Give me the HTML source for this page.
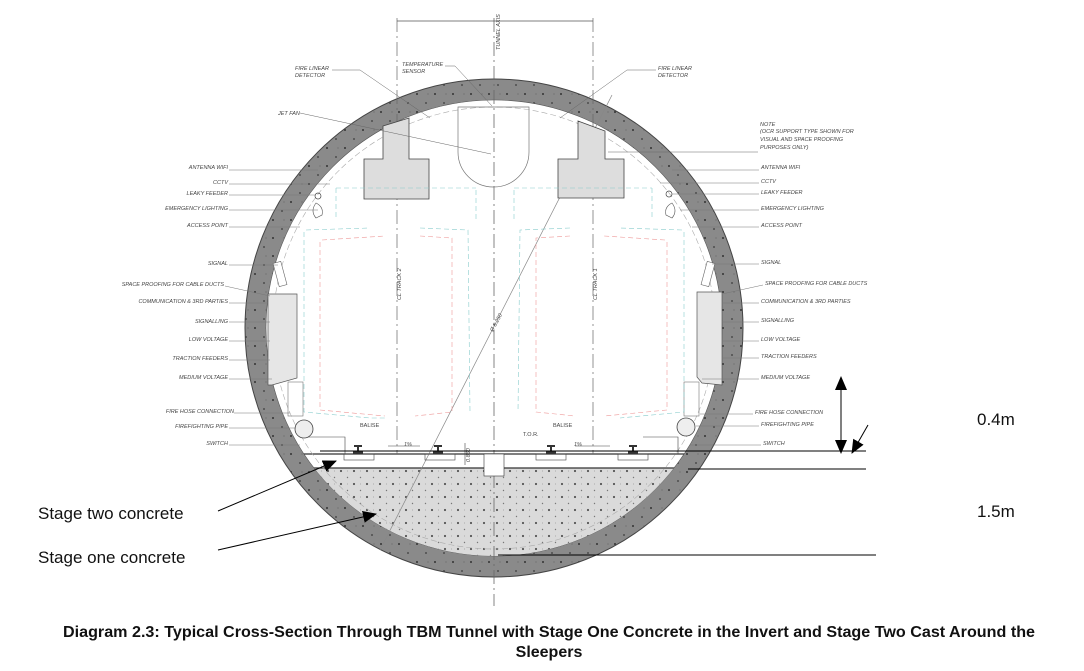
<!DOCTYPE html>
<html><head><meta charset="utf-8"><style>
html,body{margin:0;padding:0;background:#fff;}
svg{display:block;}
.l{font-family:"Liberation Sans",sans-serif;font-size:5.5px;font-style:italic;fill:#444;}
</style></head><body>
<svg width="1084" height="671" viewBox="0 0 1084 671" xmlns="http://www.w3.org/2000/svg">
<defs>
<pattern id="dots" width="18" height="18" patternUnits="userSpaceOnUse">
<circle cx="3" cy="4" r="1" fill="#333"/><circle cx="12" cy="13" r="0.9" fill="#3a3a3a"/><circle cx="14" cy="4" r="0.5" fill="#555"/>
</pattern>
<pattern id="dots2" width="13" height="13" patternUnits="userSpaceOnUse">
<circle cx="3" cy="3" r="1.1" fill="#555"/><circle cx="9.5" cy="9.5" r="0.7" fill="#777"/><circle cx="9.5" cy="3" r="0.5" fill="#999"/>
</pattern>
<clipPath id="inner"><circle cx="494" cy="328" r="228"/></clipPath>
<marker id="ah2" markerWidth="14" markerHeight="12" refX="13" refY="6" orient="auto" markerUnits="userSpaceOnUse"><path d="M0,0 L14,6 L0,12z" fill="#000"/></marker>
</defs>
<path d="M494,79 a249,249 0 1,0 0.1,0 z M494,100 a228,228 0 1,1 -0.1,0 z" fill="#8a8a8a" fill-rule="evenodd"/>
<path d="M494,79 a249,249 0 1,0 0.1,0 z M494,100 a228,228 0 1,1 -0.1,0 z" fill="url(#dots)" fill-rule="evenodd"/>
<circle cx="494" cy="328" r="249" fill="none" stroke="#444" stroke-width="1"/>
<circle cx="494" cy="328" r="228" fill="none" stroke="#555" stroke-width="0.6"/>
<g clip-path="url(#inner)">
<rect x="240" y="468" width="520" height="120" fill="#dadada"/>
<rect x="240" y="468" width="520" height="120" fill="url(#dots2)"/>
<line x1="260" y1="454" x2="730" y2="454" stroke="#333" stroke-width="1.3"/>
<line x1="260" y1="468" x2="730" y2="468" stroke="#333" stroke-width="1.3"/>
<circle cx="494" cy="328" r="221" fill="none" stroke="#aaa" stroke-width="0.6" stroke-dasharray="6 3"/>
</g>
<line x1="494" y1="18" x2="494" y2="606" stroke="#666" stroke-width="0.8" stroke-dasharray="14 4 2 4"/>
<line x1="397" y1="18" x2="397" y2="454" stroke="#666" stroke-width="0.7" stroke-dasharray="14 4 2 4"/>
<line x1="593" y1="18" x2="593" y2="454" stroke="#666" stroke-width="0.7" stroke-dasharray="14 4 2 4"/>
<line x1="397" y1="21" x2="593" y2="21" stroke="#555" stroke-width="0.7"/>
<text x="500" y="50" class="l" transform="rotate(-90 500 50)">TUNNEL AXIS</text>
<line x1="380" y1="550" x2="612" y2="95" stroke="#888" stroke-width="0.7"/>
<text x="493" y="332" class="l" transform="rotate(-62 493 332)">Ø 8.250</text>
<path d="M383,126 L409,118 L409,159 L429,159 L429,199 L364,199 L364,159 L383,159Z" fill="#ddd" stroke="#444" stroke-width="0.8"/>
<path d="M578,121 L605,131 L605,159 L624,159 L624,198 L558,198 L558,159 L578,159Z" fill="#ddd" stroke="#444" stroke-width="0.8"/>
<path d="M458,107 L529,107 L529,152 A35.5,35 0 0,1 458,152 Z" fill="none" stroke="#777" stroke-width="0.7"/>
<path d="M268,294 L297,294 L297,378 L272,385 L268,385Z" fill="#e6e6e6" stroke="#555" stroke-width="0.7"/>
<path d="M697,292 L722,292 L722,385 L702,383 L697,377Z" fill="#e6e6e6" stroke="#555" stroke-width="0.7"/>
<rect x="288" y="382" width="15" height="34" fill="none" stroke="#777" stroke-width="0.6"/>
<rect x="684" y="382" width="15" height="34" fill="none" stroke="#777" stroke-width="0.6"/>
<rect x="276" y="262" width="8" height="24" fill="#fff" stroke="#666" stroke-width="0.6" transform="rotate(-15 280 274)"/>
<rect x="704" y="262" width="8" height="24" fill="#fff" stroke="#666" stroke-width="0.6" transform="rotate(15 708 274)"/>
<circle cx="304" cy="429" r="9" fill="#eee" stroke="#444" stroke-width="0.8"/>
<circle cx="686" cy="427" r="9" fill="#eee" stroke="#444" stroke-width="0.8"/>
<circle cx="318" cy="196" r="3" fill="none" stroke="#444" stroke-width="0.7"/>
<circle cx="669" cy="194" r="3" fill="none" stroke="#444" stroke-width="0.7"/>
<path d="M316,203 q8,4 6,12 l-6,3 q-6,-7 0,-15z" fill="none" stroke="#555" stroke-width="0.6"/>
<path d="M672,203 q-8,4 -6,12 l6,3 q6,-7 0,-15z" fill="none" stroke="#555" stroke-width="0.6"/>
<g fill="none" stroke-width="0.6">
<path d="M304,232 L304,412 L370,418 L385,418 M306,230 L370,228 M420,228 L468,230 L470,412" stroke="#8cc" stroke-dasharray="5 3"/>
<path d="M320,242 L320,410 L385,416 M322,240 L385,236 M420,236 L452,238 L452,412 L415,416" stroke="#e99" stroke-dasharray="5 3"/>
<path d="M684,232 L684,412 L620,418 M682,230 L620,228 M570,228 L520,230 L518,412" stroke="#8cc" stroke-dasharray="5 3"/>
<path d="M667,242 L667,410 L604,416 M665,240 L604,236 M570,236 L536,238 L536,412 L575,416" stroke="#e99" stroke-dasharray="5 3"/>
<path d="M336,188 L336,220 M476,190 L476,220 M514,190 L514,220 M652,188 L652,220 M336,188 L476,188 M514,188 L652,188" stroke="#8cc" stroke-dasharray="5 3"/>
</g>
<text x="401" y="300" class="l" transform="rotate(-90 401 300)">CL TRACK 2</text>
<text x="597" y="300" class="l" transform="rotate(-90 597 300)">CL TRACK 1</text>
<g stroke="#444" stroke-width="0.6" fill="none">
<rect x="484" y="454" width="20" height="22" fill="#fff" stroke="#333"/>
<rect x="344" y="454" width="30" height="6"/><rect x="425" y="454" width="30" height="6"/>
<rect x="536" y="454" width="30" height="6"/><rect x="618" y="454" width="30" height="6"/>
<path d="M308,437 L345,437 L345,454 M643,437 L678,437 L678,454 M388,446 L420,446 M575,446 L610,446"/>
<line x1="465" y1="443" x2="465" y2="465"/>
</g>
<g fill="#333"><path d="M354,445 h8 v2 h-3 v4 h4 v3 h-10 v-3 h4 v-4 h-3z"/><path d="M434,445 h8 v2 h-3 v4 h4 v3 h-10 v-3 h4 v-4 h-3z"/><path d="M547,445 h8 v2 h-3 v4 h4 v3 h-10 v-3 h4 v-4 h-3z"/><path d="M629,445 h8 v2 h-3 v4 h4 v3 h-10 v-3 h4 v-4 h-3z"/></g>
<text x="360" y="427" class="l" style="font-style:normal">BALISE</text>
<text x="553" y="427" class="l" style="font-style:normal">BALISE</text>
<text x="523" y="436" class="l" style="font-style:normal">T.O.R.</text>
<text x="404" y="446" class="l">1%</text><text x="574" y="446" class="l">1%</text>
<text x="470" y="462" class="l" transform="rotate(-90 470 462)">0.860</text>
<text x="295" y="70" class="l">FIRE LINEAR</text><text x="295" y="77" class="l">DETECTOR</text>
<text x="402" y="66" class="l">TEMPERATURE</text><text x="402" y="73" class="l">SENSOR</text>
<text x="658" y="70" class="l">FIRE LINEAR</text><text x="658" y="77" class="l">DETECTOR</text>
<text x="278" y="115" class="l">JET FAN</text>
<text x="760" y="126" class="l">NOTE</text>
<text x="760" y="133" class="l">(OCR SUPPORT TYPE SHOWN FOR</text>
<text x="760" y="141" class="l">VISUAL AND SPACE PROOFING</text>
<text x="760" y="149" class="l">PURPOSES ONLY)</text>
<g stroke="#666" stroke-width="0.5" fill="none">
<path d="M332,70 L360,70 L430,118"/><path d="M445,66 L455,66 L492,106"/>
<path d="M656,70 L627,70 L560,118"/><path d="M300,113 L491,154"/><path d="M758,152 L608,152"/>
</g>
<g class="l" text-anchor="end">
<text x="228" y="169">ANTENNA WIFI</text><text x="228" y="184">CCTV</text><text x="228" y="195">LEAKY FEEDER</text>
<text x="228" y="210">EMERGENCY LIGHTING</text><text x="228" y="227">ACCESS POINT</text><text x="228" y="265">SIGNAL</text>
<text x="224" y="286">SPACE PROOFING FOR CABLE DUCTS</text><text x="228" y="303">COMMUNICATION &amp; 3RD PARTIES</text>
<text x="228" y="323">SIGNALLING</text><text x="228" y="341">LOW VOLTAGE</text><text x="228" y="360">TRACTION FEEDERS</text>
<text x="228" y="379">MEDIUM VOLTAGE</text><text x="234" y="413">FIRE HOSE CONNECTION</text>
<text x="228" y="428">FIREFIGHTING PIPE</text><text x="228" y="445">SWITCH</text>
</g>
<g class="l">
<text x="761" y="169">ANTENNA WIFI</text><text x="761" y="183">CCTV</text><text x="761" y="194">LEAKY FEEDER</text>
<text x="761" y="210">EMERGENCY LIGHTING</text><text x="761" y="227">ACCESS POINT</text><text x="761" y="264">SIGNAL</text>
<text x="765" y="285">SPACE PROOFING FOR CABLE DUCTS</text><text x="761" y="303">COMMUNICATION &amp; 3RD PARTIES</text>
<text x="761" y="322">SIGNALLING</text><text x="761" y="341">LOW VOLTAGE</text><text x="761" y="358">TRACTION FEEDERS</text>
<text x="761" y="379">MEDIUM VOLTAGE</text><text x="755" y="414">FIRE HOSE CONNECTION</text>
<text x="761" y="426">FIREFIGHTING PIPE</text><text x="763" y="445">SWITCH</text>
</g>
<g stroke="#777" stroke-width="0.5">
<line x1="229" y1="170" x2="318" y2="170"/><line x1="229" y1="184" x2="330" y2="184"/><line x1="229" y1="195" x2="316" y2="195"/>
<line x1="229" y1="210" x2="318" y2="210"/><line x1="229" y1="227" x2="300" y2="227"/><line x1="229" y1="265" x2="278" y2="265"/>
<line x1="225" y1="286" x2="270" y2="296"/><line x1="229" y1="303" x2="268" y2="303"/><line x1="229" y1="322" x2="270" y2="322"/>
<line x1="229" y1="341" x2="270" y2="341"/><line x1="229" y1="360" x2="270" y2="360"/><line x1="229" y1="379" x2="272" y2="379"/>
<line x1="234" y1="413" x2="290" y2="413"/><line x1="229" y1="428" x2="296" y2="428"/><line x1="229" y1="445" x2="300" y2="445"/>
<line x1="759" y1="170" x2="672" y2="170"/><line x1="759" y1="183" x2="660" y2="183"/><line x1="759" y1="194" x2="672" y2="194"/>
<line x1="759" y1="210" x2="680" y2="210"/><line x1="759" y1="227" x2="692" y2="227"/><line x1="759" y1="264" x2="712" y2="264"/>
<line x1="763" y1="285" x2="722" y2="294"/><line x1="759" y1="303" x2="722" y2="303"/><line x1="759" y1="322" x2="722" y2="322"/>
<line x1="759" y1="341" x2="722" y2="341"/><line x1="759" y1="358" x2="722" y2="358"/><line x1="759" y1="379" x2="702" y2="379"/>
<line x1="753" y1="414" x2="700" y2="414"/><line x1="759" y1="426" x2="696" y2="426"/><line x1="761" y1="445" x2="690" y2="445"/>
</g>
<g stroke="#000" stroke-width="1">
<line x1="320" y1="451" x2="866" y2="451"/>
<line x1="688" y1="469" x2="866" y2="469"/>
<line x1="498" y1="555" x2="876" y2="555"/>
<line x1="841" y1="390" x2="841" y2="440"/>
<line x1="218" y1="511" x2="336" y2="461" marker-end="url(#ah2)"/>
<line x1="218" y1="550" x2="376" y2="514" marker-end="url(#ah2)"/>
<line x1="868" y1="425" x2="852" y2="453" marker-end="url(#ah2)"/>
</g>
<path d="M841,376 L835,390 L847,390Z M841,454 L835,440 L847,440Z" fill="#000"/>
<g font-family="Liberation Sans, sans-serif" font-size="17" fill="#111">
<text x="977" y="425">0.4m</text><text x="977" y="517">1.5m</text>
<text x="38" y="519">Stage two concrete</text><text x="38" y="563">Stage one concrete</text>
</g>
<g font-family="Liberation Sans, sans-serif" font-size="16" font-weight="bold" fill="#111" text-anchor="middle">
<text x="549" y="637" textLength="972" lengthAdjust="spacingAndGlyphs">Diagram 2.3: Typical Cross-Section Through TBM Tunnel with Stage One Concrete in the Invert and Stage Two Cast Around the</text>
<text x="549" y="657">Sleepers</text>
</g>
</svg>
</body></html>
